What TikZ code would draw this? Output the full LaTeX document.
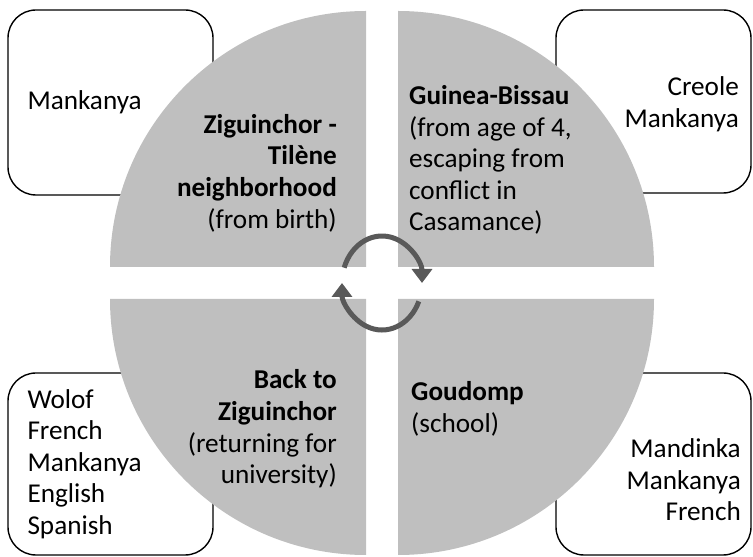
\documentclass[tikz,border=0pt]{standalone}
\usepackage{fontspec}
\setmainfont{Carlito}
\usetikzlibrary{positioning,arrows.meta}
\definecolor{quadgray}{RGB}{191,191,191}
\definecolor{cyclegray}{RGB}{89,89,89}

\begin{document}
\begin{tikzpicture}[
    x=1pt,
    y=1pt,
    quarter/.style={
        fill=quadgray
    },
    langbox/.style={
        draw,
        line width=1.4pt,
        rounded corners=28pt
    },
    place/.style={
        font=\fontsize{27.2}{31.6}\selectfont,
        inner sep=0pt
    },
    lang/.style={
        font=\fontsize{27.2}{31.6}\selectfont,
        inner sep=0pt
    },
    roundarrow/.style={
        draw=cyclegray,
        line width=5pt,
        -{Triangle[width=20pt,length=14pt]}
    }
]
\useasboundingbox (0,0) rectangle (753,557);

% Language boxes (behind the circle)
\node [langbox, minimum width=205pt, minimum height=185pt] (tlbox) at (110.5,454.5) {};
\node [langbox, minimum width=195pt, minimum height=183pt] (trbox) at (653.5,455.5) {};
\node [langbox, minimum width=205pt, minimum height=182pt] (blbox) at (110.5,93) {};
\node [langbox, minimum width=195pt, minimum height=182pt] (brbox) at (653.5,93) {};

% Quarters
\coordinate (hub) at (382,274);
\fill [quarter] ([shift={(-16,16)}]hub) -- ++(0,256) arc[start angle=90, end angle=180, radius=256] -- cycle;
\fill [quarter] ([shift={(16,16)}]hub) -- ++(0,256) arc[start angle=90, end angle=0, radius=256] -- cycle;
\fill [quarter] ([shift={(-16,-16)}]hub) -- ++(0,-256) arc[start angle=270, end angle=180, radius=256] -- cycle;
\fill [quarter] ([shift={(16,-16)}]hub) -- ++(0,-256) arc[start angle=-90, end angle=0, radius=256] -- cycle;

% Places
\node [place, anchor=east, align=right] (birth) at (337,384) {
    \textbf{Ziguinchor -}\\
    \textbf{Tilène}\\
    \textbf{neighborhood}\\
    (from birth)
};
\node [place, anchor=west, align=left] (bissau) at (409,397) {
    \textbf{Guinea-Bissau}\\
    (from age of 4,\\
    escaping from\\
    conflict in\\
    Casamance)
};
\node [place, anchor=east, align=right] (back) at (337,128) {
    \textbf{Back to}\\
    \textbf{Ziguinchor}\\
    (returning for\\
    university)
};
\node [place, anchor=west, align=left] (goudomp) at (411,148) {
    \textbf{Goudomp}\\
    (school)
};

% Languages
\node [lang, right=20pt of tlbox.west, anchor=west] (tllang) {Mankanya};
\node [lang, align=right, anchor=east] (trlang) at (739,453) {
    Creole\\
    Mankanya
};
\node [lang, right=20pt of blbox.west, anchor=west, align=left] (bllang) {
    Wolof\\
    French\\
    Mankanya\\
    English\\
    Spanish
};
\node [lang, align=right, anchor=east] (brlang) at (741,77) {
    Mandinka\\
    Mankanya\\
    French
};

% Cycle arrows
\draw [roundarrow] ([shift={(161:40 and 47)}]hub) arc[start angle=161, end angle=0, x radius=40, y radius=47];
\draw [roundarrow] ([shift={(-23:40 and 47)}]hub) arc[start angle=-23, end angle=-180, x radius=40, y radius=47];

\end{tikzpicture}
\end{document}
